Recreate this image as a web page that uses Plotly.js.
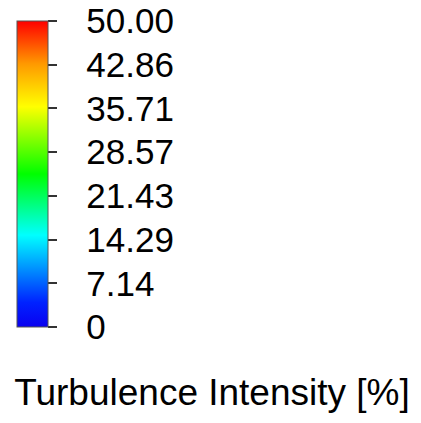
<!DOCTYPE html>
<html>
<head>
<meta charset="utf-8">
<script src="https://cdn.plot.ly/plotly-3.0.1.min.js"></script>
<style>
  html, body { margin: 0; padding: 0; background: #ffffff; }
  #chart { width: 421px; height: 423px; }
</style>
</head>
<body>
<div id="chart"></div>
<script>
// Turbulence intensity legend range and labelled levels
const valueMin = 0;
const valueMax = 50;
const levelValues = [0, 7.14, 14.29, 21.43, 28.57, 35.71, 42.86, 50];
const levelLabels = ['0', '7.14', '14.29', '21.43', '28.57', '35.71', '42.86', '50.00'];
const quantityName = 'Turbulence Intensity [%]';

// Rainbow map: blue -> cyan -> green -> yellow -> red
const rainbow = [
  [0.00, '#0a00f0'],
  [0.08, '#0022ff'],
  [0.30, '#00ffff'],
  [0.50, '#00ff00'],
  [0.72, '#ffff00'],
  [0.86, '#ff9900'],
  [1.00, '#ff0000']
];

const W = 421, H = 423;

// gap between tick marks and their labels
const labelGap = '\u00a0\u00a0\u200a';

const field = {
  type: 'heatmap',
  z: [[valueMin, valueMax]],
  x: [0, 1],
  y: [0],
  zmin: valueMin,
  zmax: valueMax,
  colorscale: rainbow,
  hoverinfo: 'skip',
  colorbar: {
    thicknessmode: 'pixels',
    thickness: 31,
    lenmode: 'pixels',
    len: 306,
    xref: 'paper',
    yref: 'paper',
    x: 17 / W,
    xanchor: 'left',
    y: 1 - 21 / H,
    yanchor: 'top',
    xpad: 0,
    ypad: 0,
    outlinewidth: 1,
    outlinecolor: '#555555',
    bgcolor: 'rgba(0,0,0,0)',
    borderwidth: 0,
    ticks: 'outside',
    ticklen: 9,
    tickwidth: 2,
    tickcolor: '#333333',
    tickmode: 'array',
    tickvals: levelValues,
    ticktext: levelLabels.map(s => labelGap + s),
    tickfont: { family: 'Liberation Sans, Arial, sans-serif', size: 35, color: '#000000' }
  }
};

const layout = {
  width: W,
  height: H,
  margin: { l: 0, r: 0, t: 0, b: 0 },
  paper_bgcolor: '#ffffff',
  plot_bgcolor: '#ffffff',
  showlegend: false,
  xaxis: { range: [10, 11], visible: false, fixedrange: true },
  yaxis: { range: [10, 11], visible: false, fixedrange: true },
  title: {
    text: quantityName,
    x: 212 / W,
    xanchor: 'center',
    xref: 'paper',
    y: 1 - 392 / H,
    yanchor: 'middle',
    yref: 'container',
    font: { family: 'Liberation Sans, Arial, sans-serif', size: 37, color: '#000000' }
  }
};

Plotly.newPlot('chart', [field], layout, { displayModeBar: false, staticPlot: true });
</script>
</body>
</html>
